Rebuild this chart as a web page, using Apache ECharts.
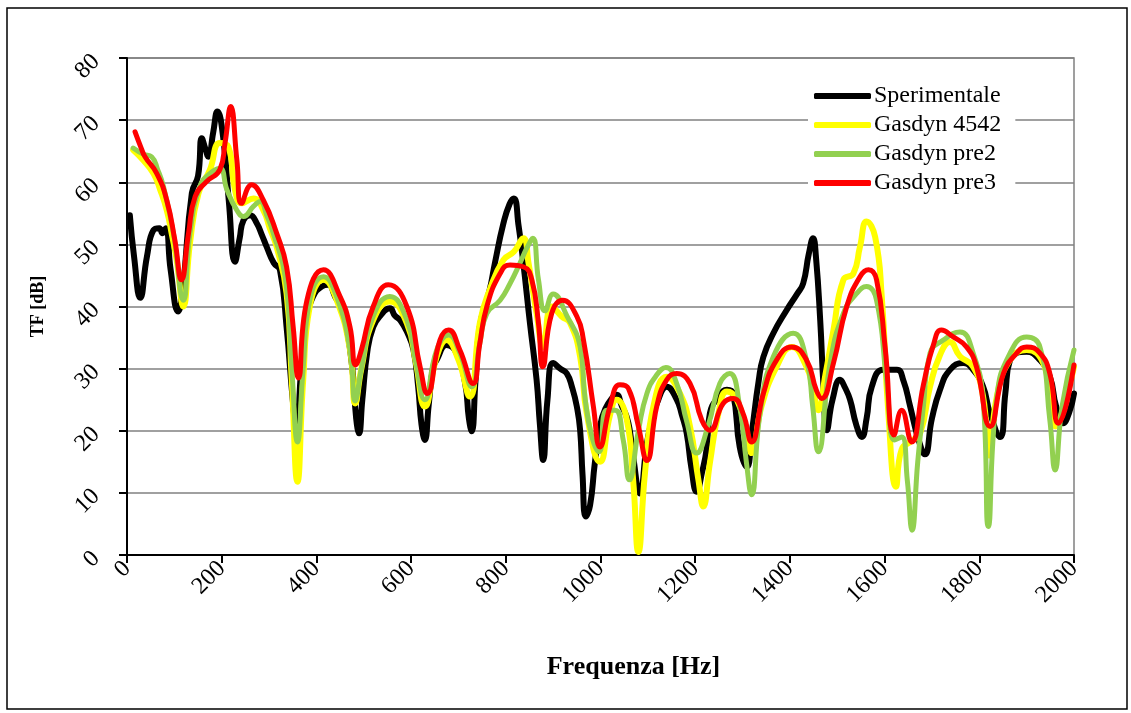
<!DOCTYPE html>
<html>
<head>
<meta charset="utf-8">
<script src="https://cdn.jsdelivr.net/npm/echarts@6/dist/echarts.min.js"></script>
<style>
  html, body { margin: 0; padding: 0; background: #fff; }
  #chart { width: 1131px; height: 713px; }
</style>
</head>
<body>
<div id="chart"></div>
<script>
// [frequency Hz, TF dB]
const sperimentale = [
  [6,54.7],[15,48],[28,41.4],[42,48],[56,52.3],[68,52.6],[75,51.8],[82,52.6],[92,46],[108,39.2],[118,43],
  [137,58.3],[150,61],[158,67.1],[165,65.5],[172,64.1],[182,68],[191,71.4],[203,67.3],[215,57],[228,47.2],
  [238,51],[246,53.9],[260,54.7],[274,53.4],[285,51.5],[295,49.6],[310,47],[323,45.9],[337,36.7],[350,25],
  [358,20],[368,30],[380,38],[393,41.6],[411,43.2],[425,43.5],[440,41.5],[455,39.5],[464,36.7],[476,30],
  [484,22],[490,19.6],[497,25],[508,33],[520,36.7],[535,38.5],[555,39.7],[566,38.5],[577,37.8],[592,35.8],
  [605,33],[615,27],[622,21],[629,18.5],[637,24],[646,30],[654,31.4],[675,33.8],[696,32.5],[714,27.7],
  [722,22],[728,19.9],[736,28],[745,36.7],[766,42.7],[777,47],[795,53.4],[808,56.5],[817,57.4],[827,53],
  [837,47],[851,37.3],[865,28.2],[872,21],[879,15.3],[888,25],[900,30.9],[915,30],[929,29.2],[940,27],
  [950,23.9],[957,20.1],[962,13],[969,6.2],[978,8],[988,14.8],[999,20.7],[1010,23.5],[1027,25.5],[1034,25.8],
  [1045,24],[1055,22.3],[1062,20],[1069,15.8],[1083,9.9],[1098,18],[1108,21.5],[1119,24.4],[1140,27.1],
  [1161,25],[1172,22.5],[1182,19.6],[1192,14],[1203,10.2],[1215,13.5],[1224,17],[1231,22.8],[1250,25.5],
  [1267,26.6],[1280,26],[1294,17.4],[1309,14.2],[1320,20],[1334,28],[1344,31.9],[1365,35.7],[1393,39.4],
  [1415,42],[1428,43.7],[1440,48.5],[1449,51],[1455,48],[1464,37.8],[1471,27],[1478,20.1],[1490,25],
  [1506,28.2],[1516,27],[1527,25],[1540,21],[1552,19],[1562,22],[1573,27.1],[1597,29.8],[1626,29.8],
  [1640,28],[1654,23.9],[1670,19],[1685,16.2],[1700,22],[1717,26.6],[1738,29.8],[1766,30.9],[1787,29.8],
  [1808,27.1],[1822,23],[1844,19],[1855,26],[1865,31.4],[1900,32.7],[1928,31.4],[1949,28.7],[1962,24],
  [1977,21.2],[1990,23],[2000,26]
];

const gasdyn4542 = [
  [13,65.2],[35,63.5],[56,61.4],[70,58.8],[84,55.5],[95,51.5],[105,47.5],[119,40],[133,50.2],[151,58.2],
  [175,62],[196,66.3],[214,65.7],[228,58.8],[242,56.6],[267,57.4],[288,55.5],[302,52.5],[316,49.6],[337,42.1],
  [348,28],[360,11.8],[372,28],[386,40],[415,44.3],[443,41],[471,33],[482,24.4],[495,30],[520,37.8],
  [555,40.8],[591,37.3],[610,31],[629,23.9],[654,31.9],[675,34.6],[700,31.4],[724,25.5],[745,37.3],[766,42.7],
  [795,47.5],[817,48.8],[837,51],[848,47],[865,38.9],[879,33.5],[897,40],[918,38.4],[936,37.3],[957,31.9],
  [971,22.8],[999,15],[1020,22.5],[1034,25],[1055,22],[1069,12],[1080,0.5],[1094,13.2],[1112,24],[1140,28.7],
  [1168,26],[1189,20.7],[1207,12],[1217,7.8],[1231,14.8],[1249,22.8],[1267,26.3],[1288,25],[1309,19.6],
  [1319,16.4],[1340,23.9],[1372,30.3],[1404,33.5],[1435,30.3],[1448,27],[1460,23.3],[1475,29],[1492,36.2],
  [1513,44.3],[1534,45.3],[1548,49.6],[1562,53.7],[1580,51.2],[1594,41.6],[1608,22.8],[1624,11],[1636,17],
  [1656,18.3],[1675,19.6],[1696,27.1],[1716,32],[1738,34.3],[1759,32],[1787,30.3],[1808,25.5],[1821,16],
  [1837,25.5],[1865,31.4],[1900,33],[1935,30.9],[1950,25],[1961,20.7],[1975,23],[2000,30.3]
];

const gasdynPre2 = [
  [13,65.5],[35,64.5],[52,64.1],[65,62],[77,59.3],[98,51.8],[119,41],[133,51.8],[154,59.3],[175,61.4],
  [196,62.2],[211,58.8],[232,55.5],[246,54.5],[267,56.1],[281,56.9],[296,54.5],[309,51.8],[334,44.8],[348,30],
  [360,18.2],[372,30],[386,41],[415,44.8],[443,41.5],[471,33],[482,24.8],[495,30],[520,38.4],[555,41.6],
  [591,37.8],[610,31],[629,25],[654,33],[679,35.4],[703,32.5],[728,27.1],[745,34],[760,38.9],[788,41],
  [809,43.7],[830,47],[845,49.5],[857,51],[869,44.3],[883,39.3],[900,42],[929,38.5],[957,33.5],[967,25.5],
  [982,19],[997,16.6],[1013,23.3],[1031,23.3],[1048,18.5],[1061,12.1],[1080,20],[1098,26],[1119,29],[1138,30.2],
  [1161,27.6],[1182,21.5],[1203,16.4],[1228,21],[1252,27.6],[1273,29.2],[1294,23.9],[1308,15],[1319,9.7],
  [1337,22.8],[1365,31.9],[1407,35.7],[1435,31.4],[1448,24],[1460,16.6],[1485,30.9],[1513,38.9],[1541,42.1],
  [1562,43.2],[1583,41],[1604,28.2],[1621,18.5],[1636,19],[1648,12],[1658,4],[1670,15],[1682,24],[1696,32.5],
  [1724,34.6],[1759,35.9],[1787,32.5],[1808,25],[1819,4.6],[1837,25.5],[1865,32.5],[1900,35.1],[1928,33.5],
  [1949,21.7],[1960,13.7],[1975,24],[2000,33]
];

const gasdynPre3 = [
  [17,68.1],[30,65.5],[38,64.1],[63,61.4],[84,57.1],[101,50.7],[115,44.3],[130,51.8],[144,57.7],[168,60.1],
  [196,62],[207,66.3],[219,72.2],[232,63.6],[242,56.6],[263,59.6],[288,57.1],[316,51.8],[337,46.4],[351,36.7],
  [362,28.5],[380,41],[415,45.9],[450,41.6],[471,36.7],[483,30.6],[495,33],[520,40],[552,43.5],[591,40],
  [619,30.3],[634,26],[661,34.6],[679,36.2],[703,33],[731,27.6],[745,34],[760,40],[788,45.3],[809,46.7],
  [837,46.4],[855,44.3],[869,37.3],[878,30.3],[897,38.9],[920,41],[950,38.4],[964,34.6],[985,23.9],[999,17.4],
  [1020,23.9],[1041,27.4],[1059,26.8],[1080,20.7],[1098,15.2],[1119,24],[1140,28.2],[1161,29.2],[1189,27.6],
  [1214,21.7],[1231,20.1],[1259,24.4],[1280,25.2],[1301,22.8],[1319,18.2],[1344,26],[1372,31.4],[1404,33.5],
  [1435,31.4],[1456,26.5],[1467,25.2],[1492,30.9],[1520,40],[1548,44.8],[1566,45.9],[1583,44.3],[1601,33.5],
  [1620,19.3],[1636,23.3],[1657,18.2],[1682,27.4],[1703,33.8],[1720,36.2],[1745,35.1],[1773,33.5],[1794,30.3],
  [1823,20.7],[1851,29.2],[1879,32.5],[1900,33.5],[1928,32.5],[1949,29.2],[1967,21.2],[2000,30.6]
];

const seriesNames = ["Sperimentale", "Gasdyn 4542", "Gasdyn pre2", "Gasdyn pre3"];
const seriesColors = ["#000000", "#FFFF00", "#92D050", "#FF0000"];
const seriesWidths = [6, 6, 5, 5];
const seriesData = [sperimentale, gasdyn4542, gasdynPre2, gasdynPre3];

const FONT = "Liberation Serif";

const chart = echarts.init(document.getElementById("chart"));

chart.setOption({
  animation: false,
  backgroundColor: "#fff",
  textStyle: { fontFamily: FONT, color: "#000" },
  graphic: [{
    type: "rect",
    shape: { x: 7, y: 8, width: 1120, height: 701 },
    style: { fill: "none", stroke: "#000", lineWidth: 1.5 },
    silent: true,
  }],
  grid: {
    left: 127, top: 58, right: 57, bottom: 158,
    show: true, borderColor: "#808080", borderWidth: 1.5,
  },
  legend: {
    orient: "vertical",
    left: 808, top: 80,
    backgroundColor: "#fff",
    padding: [4, 14, 4, 6],
    itemGap: 5,
    itemWidth: 57, itemHeight: 6,
    icon: "roundRect",
    textStyle: { fontFamily: FONT, fontSize: 24, color: "#000", padding: [0, 0, 0, -2] },
    data: seriesNames,
  },
  xAxis: {
    type: "value",
    min: 0, max: 2000, interval: 200,
    name: "Frequenza [Hz]",
    nameLocation: "middle",
    nameGap: 99,
    nameTextStyle: {
      fontFamily: FONT, fontSize: 26, fontWeight: "bold", color: "#000",
      padding: [0, 0, 0, 66],
    },
    axisLine: { show: true, onZero: false, lineStyle: { color: "#000", width: 2 } },
    axisTick: { show: true, inside: false, length: 8, lineStyle: { color: "#000", width: 2 } },
    axisLabel: {
      rotate: 45, margin: 10, fontFamily: FONT, fontSize: 24, color: "#000",
      formatter: (v) => String(v),
    },
    splitLine: { show: false },
  },
  yAxis: {
    type: "value",
    min: 0, max: 80, interval: 10,
    name: "TF [dB]",
    nameLocation: "middle",
    nameGap: 80,
    nameRotate: 90,
    nameTextStyle: { fontFamily: FONT, fontSize: 18, fontWeight: "bold", color: "#000" },
    axisLine: { show: true, lineStyle: { color: "#000", width: 2 } },
    axisTick: { show: true, inside: false, length: 8, lineStyle: { color: "#000", width: 2 } },
    axisLabel: { rotate: 45, margin: 31, fontFamily: FONT, fontSize: 24, color: "#000" },
    splitLine: { show: true, lineStyle: { color: "#808080", width: 1.5 } },
  },
  series: seriesData.map((d, i) => ({
    name: seriesNames[i],
    type: "line",
    data: d,
    smooth: 0.5,
    symbol: "none",
    color: seriesColors[i],
    lineStyle: { color: seriesColors[i], width: seriesWidths[i], cap: "round", join: "round" },
    z: 2 + i,
  })),
});
</script>
</body>
</html>
